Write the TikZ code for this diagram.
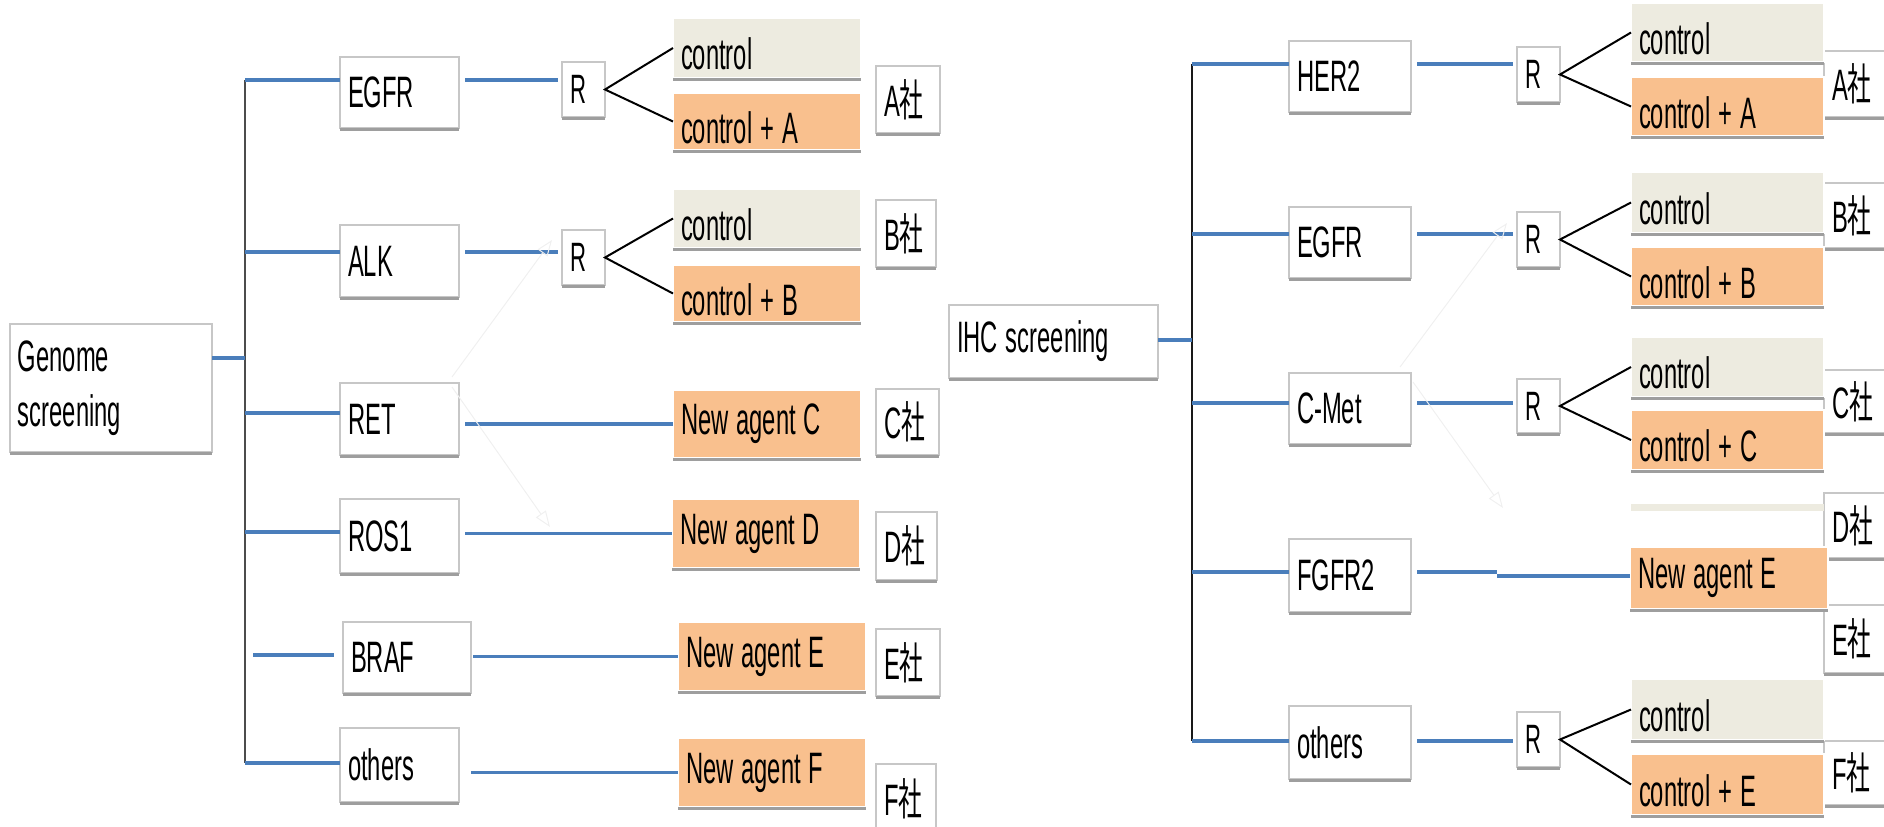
\documentclass[tikz,border=0pt]{standalone}
\usepackage{fontspec}
\setmainfont{Liberation Sans}[FakeStretch=0.54]
\newfontfamily\cjk{Noto Sans CJK JP}[FakeStretch=0.54]
\usetikzlibrary{arrows.meta,calc}
\definecolor{blu}{RGB}{74,126,187}
\definecolor{beig}{RGB}{237,235,224}
\definecolor{peach}{RGB}{249,192,142}
\newcommand\mybox[7]{%
  \pgfmathsetmacro\bw{(#4-#2)*0.5-8}%
  \pgfmathsetmacro\bh{(#5-#3)*0.5}%
  \node[#6, anchor=north west, inner xsep=4pt, inner ysep=0pt, text width=\bw pt,
        minimum height=\bh pt, align=left] (#1) at (#2,#3) {#7};
  \draw[shad] ([yshift=-0.6pt]#1.south west) -- ([yshift=-0.6pt]#1.south east);}
\newcommand\sha[1]{#1{\cjk 社}}
\newcommand\lo[1]{\raisebox{-3pt}[\height][\depth]{#1}}
\newcommand\spc{\hspace{4pt}}
\begin{document}
\begin{tikzpicture}[x=0.5pt,y=-0.5pt,
  every node/.style={font=\fontsize{22}{27.5}\selectfont, outer sep=0pt},
  wbox/.style={fill=white, draw=black!22, line width=0.7pt},
  rbox/.style={wbox, font=\fontsize{20.5}{24}\selectfont},
  cbox/.style={fill=beig, draw=white, line width=0.8pt},
  pbox/.style={fill=peach, draw=white, line width=0.8pt},
  shad/.style={draw=black!38, line width=1.3pt},
  bl/.style={draw=blu, line width=1.7pt},
  fk/.style={draw=black, line width=1pt},
  trunkL/.style={draw=black!70, line width=0.9pt},
  trunkR/.style={draw=black!90, line width=0.9pt},
  faint/.style={draw=black!6, line width=0.5pt, -{Triangle[open,length=8pt,width=6pt]}}]
\useasboundingbox (0,0) rectangle (1884,826);
\clip (0,0) rectangle (1884,826);

% ---------- left tree ----------
\coordinate (LT1) at (245,80);
\coordinate (LT2) at (245,252);
\coordinate (LT3) at (245,413);
\coordinate (LT4) at (245,532);
\coordinate (LT6) at (245,763);
\coordinate (LJ) at (245,358);
\coordinate (LB0) at (253,655);
\draw[trunkL] (LT1) -- (LT6);

\mybox{gen}{10}{324}{212}{452}{wbox}{Genome\\screening}
\mybox{lEGFR}{340}{57}{459}{128}{wbox}{EGFR}
\mybox{lALK}{340}{225}{459}{297}{wbox}{ALK}
\mybox{lRET}{340}{383}{459}{455}{wbox}{RET}
\mybox{lROS}{340}{499}{459}{573}{wbox}{ROS1}
\mybox{lBRAF}{343}{622}{471}{693}{wbox}{BRAF}
\mybox{lOTH}{340}{728}{459}{802}{wbox}{others}
\mybox{lR1}{562}{62}{605}{117}{rbox}{R}
\mybox{lR2}{562}{230}{605}{285}{rbox}{R}
\mybox{lsA}{876}{66}{940}{133}{wbox}{\sha{A}}
\mybox{lsB}{876}{200}{936}{267}{wbox}{\sha{B}}
\mybox{lsC}{876}{389}{939}{455}{wbox}{\sha{C}}
\mybox{lsD}{876}{512}{937}{580}{wbox}{\sha{D}}
\mybox{lsE}{876}{629}{940}{696}{wbox}{\sha{E}}
\mybox{lsF}{876}{764}{936}{834}{wbox}{\sha{F}}
\mybox{lc1}{673}{18}{861}{78}{cbox}{\lo{control}}
\mybox{lca}{673}{93}{861}{150}{pbox}{\lo{control\spc+\spc A}}
\mybox{lc2}{673}{189}{861}{248}{cbox}{\lo{control}}
\mybox{lcb}{673}{265}{861}{322}{pbox}{\lo{control\spc+\spc B}}
\mybox{lnc}{673}{390}{861}{458}{pbox}{New\spc agent\spc C}
\mybox{lnd}{672}{499}{860}{568}{pbox}{New\spc agent\spc D}
\mybox{lne}{678}{622}{866}{691}{pbox}{New\spc agent\spc E}
\mybox{lnf}{678}{738}{866}{807}{pbox}{New\spc agent\spc F}

\draw[bl] (gen.east |- LJ) -- (LJ);
\draw[bl] (LT1) -- (lEGFR.west |- LT1);
\draw[bl] (LT2) -- (lALK.west |- LT2);
\draw[bl] (LT3) -- (lRET.west |- LT3);
\draw[bl] (LT4) -- (lROS.west |- LT4);
\draw[bl, shorten >=4.5pt] (LB0) -- (lBRAF.west |- LB0);
\draw[bl] (LT6) -- (lOTH.west |- LT6);
\draw[bl, shorten <=3pt, shorten >=2pt] (lEGFR.east |- LT1) -- (lR1.west |- LT1);
\draw[bl, shorten <=3pt, shorten >=2pt] (lALK.east |- LT2) -- (lR2.west |- LT2);
\draw[bl, shorten <=3pt] (lRET.east |- lnc.west) -- (lnc.west);
\draw[bl, shorten <=3pt] (lROS.east |- lnd.west) -- (lnd.west);
\draw[bl, shorten <=1pt] (lBRAF.east |- lne.west) -- (lne.west);
\draw[bl, shorten <=6pt] (lOTH.east |- lnf.west) -- (lnf.west);
\draw[fk] (lc1.west) -- (lR1.east) -- (lca.west);
\draw[fk] (lc2.west) -- (lR2.east) -- (lcb.west);

\coordinate (fa1) at (452,377); \coordinate (fa2) at (552,240);
\coordinate (fb1) at (452,387); \coordinate (fb2) at (550,527);
\draw[faint] (fa1) -- (fa2);
\draw[faint] (fb1) -- (fb2);

% ---------- right tree ----------
\coordinate (RT1) at (1192,64);
\coordinate (RT2) at (1192,234);
\coordinate (RT3) at (1192,403);
\coordinate (RT4) at (1192,572);
\coordinate (RT5) at (1192,741);
\coordinate (RJ) at (1192,340);
\coordinate (FG1) at (1497,572);
\coordinate (FG2) at (1497,576);
\draw[trunkR] (RT1) -- (RT5);

\mybox{ihc}{949}{305}{1158}{378}{wbox}{IHC\spc screening}
\mybox{rHER}{1289}{41}{1411}{112}{wbox}{HER2}
\mybox{rEGFR}{1289}{207}{1411}{278}{wbox}{EGFR}
\mybox{rCMET}{1289}{373}{1411}{444}{wbox}{C-Met}
\mybox{rFGF}{1289}{539}{1411}{612}{wbox}{FGFR2}
\mybox{rOTH}{1289}{706}{1411}{779}{wbox}{others}
\mybox{rR1}{1517}{47}{1560}{102}{rbox}{R}
\mybox{rR2}{1517}{212}{1560}{267}{rbox}{R}
\mybox{rR3}{1517}{379}{1560}{433}{rbox}{R}
\mybox{rR4}{1517}{712}{1560}{767}{rbox}{R}
\mybox{rsA}{1824}{51}{1900}{117}{wbox}{\sha{A}}
\mybox{rsB}{1824}{183}{1900}{248}{wbox}{\sha{B}}
\mybox{rsC}{1824}{370}{1900}{433}{wbox}{\sha{C}}
\mybox{rsD}{1824}{493}{1900}{558}{wbox}{\sha{D}}
\mybox{rsE}{1824}{605}{1900}{673}{wbox}{\sha{E}}
\mybox{rsF}{1824}{741}{1900}{805}{wbox}{\sha{F}}
\mybox{rc1}{1631}{3}{1824}{62}{cbox}{\lo{control}}
\mybox{rca}{1631}{77}{1824}{136}{pbox}{\lo{control\spc+\spc A}}
\mybox{rc2}{1631}{172}{1824}{233}{cbox}{\lo{control}}
\mybox{rcb}{1631}{247}{1824}{306}{pbox}{\lo{control\spc+\spc B}}
\mybox{rc3}{1631}{337}{1824}{397}{cbox}{\lo{control}}
\mybox{rcc}{1631}{410}{1824}{470}{pbox}{\lo{control\spc+\spc C}}
\fill[beig] (1631,504) rectangle (1824,511);
\mybox{rne}{1630}{547}{1828}{609}{pbox}{New\spc agent\spc E}
\mybox{rc4}{1631}{679}{1824}{740}{cbox}{\lo{control}}
\mybox{rce}{1631}{754}{1824}{815}{pbox}{\lo{control\spc+\spc E}}

\draw[bl] (ihc.east |- RJ) -- (RJ);
\draw[bl] (RT1) -- (rHER.west |- RT1);
\draw[bl] (RT2) -- (rEGFR.west |- RT2);
\draw[bl] (RT3) -- (rCMET.west |- RT3);
\draw[bl] (RT4) -- (rFGF.west |- RT4);
\draw[bl] (RT5) -- (rOTH.west |- RT5);
\draw[bl, shorten <=3pt, shorten >=2pt] (rHER.east |- RT1) -- (rR1.west |- RT1);
\draw[bl, shorten <=3pt, shorten >=2pt] (rEGFR.east |- RT2) -- (rR2.west |- RT2);
\draw[bl, shorten <=3pt, shorten >=2pt] (rCMET.east |- RT3) -- (rR3.west |- RT3);
\draw[bl, shorten <=3pt, shorten >=2pt] (rOTH.east |- RT5) -- (rR4.west |- RT5);
\draw[bl, shorten <=3pt] (rFGF.east |- RT4) -- (FG1);
\draw[bl] (FG2) -- (rne.west |- FG2);
\draw[fk] (rc1.west) -- (rR1.east) -- (rca.west);
\draw[fk] (rc2.west) -- (rR2.east) -- (rcb.west);
\draw[fk] (rc3.west) -- (rR3.east) -- (rcc.west);
\draw[fk] (rc4.west) -- (rR4.east) -- (rce.west);

\coordinate (fc1) at (1400,367); \coordinate (fc2) at (1507,223);
\coordinate (fd1) at (1413,382); \coordinate (fd2) at (1503,508);
\draw[faint] (fc1) -- (fc2);
\draw[faint] (fd1) -- (fd2);
\end{tikzpicture}
\end{document}
